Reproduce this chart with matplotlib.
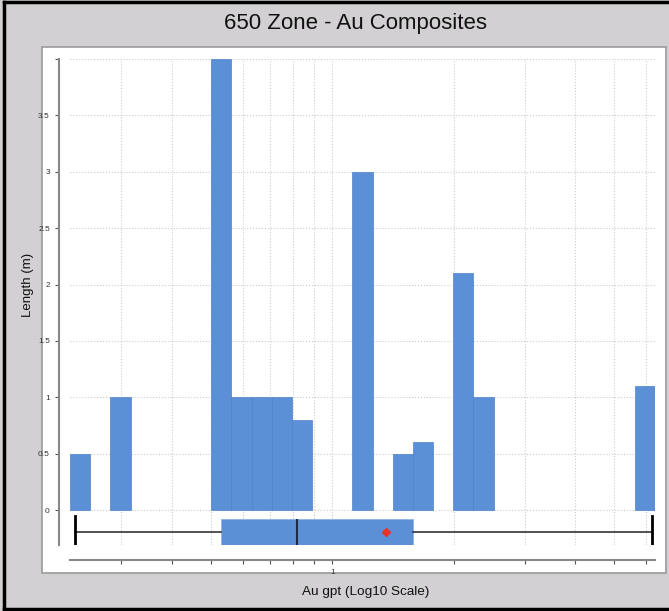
import numpy as np
import matplotlib
matplotlib.use('Agg')
import matplotlib.pyplot as plt
from matplotlib.patches import Rectangle
from matplotlib.lines import Line2D
from matplotlib.ticker import FixedLocator, NullFormatter

plt.rcParams['font.family'] = ['Liberation Sans', 'DejaVu Sans']

# histogram bins, log10(Au gpt) of bin left edges, bin width 0.05 log units
bin_left_log = [-0.65, -0.55, -0.30, -0.25, -0.20, -0.15, -0.10, 0.05, 0.15, 0.20, 0.30, 0.35, 0.75]
bin_width_log = 0.05
lengths = [0.5, 1.0, 4.0, 1.0, 1.0, 1.0, 0.8, 3.0, 0.5, 0.6, 2.1, 1.0, 1.1]

# box plot summary (Au gpt)
whisker_low = 0.23
q1 = 0.53
median = 0.82
mean = 1.36
q3 = 1.59
whisker_high = 6.2

y_ticks = [0, 0.5, 1, 1.5, 2, 2.5, 3, 3.5, 4]
y_tick_labels = ['0', '0.5', '1', '1.5', '2', '2.5', '3', '3.5', '']
x_minor = [0.3, 0.4, 0.5, 0.6, 0.7, 0.8, 0.9, 2, 3, 4, 5, 6]

BAR = '#5b90d6'
BG = '#d2d0d2'

fig = plt.figure(figsize=(6.69, 6.11), dpi=100, facecolor=BG)
W, H = 669, 611

# white plot panel
panel = Rectangle((42 / W, 1 - 573 / H), (666 - 42) / W, (573 - 47) / H,
                  transform=fig.transFigure, facecolor='white',
                  edgecolor='#9a9a9a', linewidth=1.2, zorder=-5)
fig.patches.append(panel)
# outer frame
for xs, ys in [([4 / W, 4 / W], [1 - 2 / H, 1 - 609 / H]),
               ([4 / W, 1], [1 - 2 / H, 1 - 2 / H]),
               ([4 / W, 1], [1 - 609 / H, 1 - 609 / H])]:
    fig.lines.append(Line2D(xs, ys, transform=fig.transFigure, color='black',
                            linewidth=2.5, zorder=-4))

ax = fig.add_axes([70 / W, 1 - 545 / H, (655 - 70) / W, (545 - 59) / H])
ax.set_zorder(2)
ax.patch.set_alpha(0)
ax.set_xscale('log')

left = 10 ** np.array(bin_left_log)
right = 10 ** (np.array(bin_left_log) + bin_width_log)
ax.bar(left, lengths, width=right - left, align='edge', color=BAR,
       edgecolor='#4e82c9', linewidth=0.5, zorder=2)

stats = [dict(whislo=whisker_low, q1=q1, med=median, mean=mean, q3=q3,
              whishi=whisker_high, fliers=[])]
ax.bxp(stats, positions=[-0.195], widths=0.24, orientation='horizontal', showmeans=True,
       patch_artist=True, capwidths=0.28,
       boxprops=dict(facecolor=BAR, edgecolor='#8fb3e3', linewidth=0.6),
       medianprops=dict(color='#1c2a44', linewidth=1.5),
       whiskerprops=dict(color='#222222', linewidth=1.1),
       capprops=dict(color='black', linewidth=2),
       meanprops=dict(marker='D', markerfacecolor='#e8322b', markeredgecolor='#e8322b',
                      markersize=4), zorder=3)

ax.set_xlim(10 ** -0.65, 10 ** 0.80)
ax.set_ylim(-0.31, 4)

ax.set_yticks(y_ticks)
ax.set_yticklabels(y_tick_labels)
ax.xaxis.set_major_locator(FixedLocator([1]))
ax.set_xticklabels(['1'])
ax.xaxis.set_minor_locator(FixedLocator(x_minor))
ax.xaxis.set_minor_formatter(NullFormatter())

ax.tick_params(axis='both', which='both', labelsize=6, labelcolor='#333333',
               color='#555555', length=3, width=0.8, direction='out')

ax.grid(axis='y', color='#cccccc', linestyle=':', linewidth=0.8, zorder=0)
ax.grid(axis='x', which='both', color='#cccccc', linestyle=':', linewidth=0.8, zorder=0)
ax.get_ygridlines()[-1].set_visible(False)
ax.set_axisbelow(True)

for s in ['top', 'right']:
    ax.spines[s].set_visible(False)
ax.spines['left'].set_position(('outward', 8))
ax.spines['bottom'].set_position(('outward', 11))
ax.spines['left'].set_color('#888888')
ax.spines['bottom'].set_color('#888888')
ax.spines['left'].set_linewidth(1.5)
ax.spines['bottom'].set_linewidth(1.5)

ax.set_ylabel('Length (m)', fontsize=9.5, color='#111111')
ax.set_xlabel('Au gpt (Log10 Scale)', fontsize=9.7, color='#111111')
ax.yaxis.set_label_coords((34 - 70) / 585, 0.536)
ax.xaxis.set_label_coords((366 - 70) / 585, (545 - 586) / 486)

fig.text(355 / W, 1 - 24 / H, '650 Zone - Au Composites', ha='center', va='center',
         fontsize=16, color='#111111')

fig.savefig('out.png', dpi=100, facecolor=BG)
